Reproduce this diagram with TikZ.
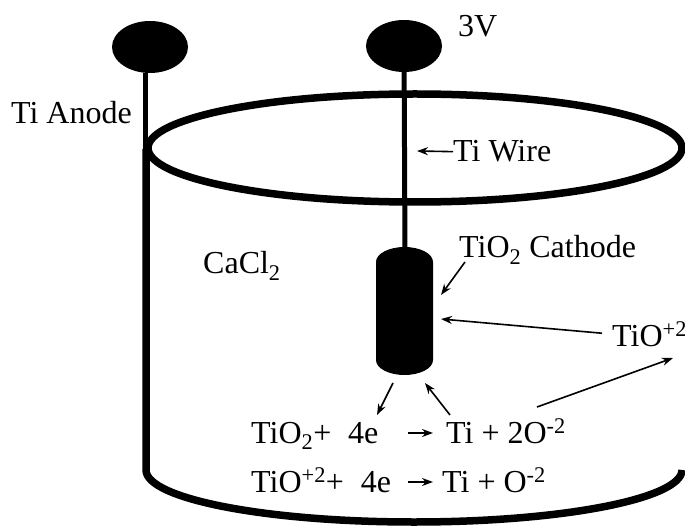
\documentclass[tikz,border=0pt]{standalone}
\usepackage{fontspec}
\setmainfont{Liberation Serif}
\usepackage{tikz}
\usetikzlibrary{arrows.meta, shapes.geometric}
\tikzset{
  lbl/.style={font=\fontsize{32}{36}\selectfont, inner sep=0pt, anchor=base west},
  thinarrow/.style={-{Stealth[length=11pt,width=8pt]}, line width=1.6pt},
  wall/.style={line width=7.5pt},
  wire/.style={line width=5pt},
  terminal/.style={ellipse, fill=black, minimum width=76pt, minimum height=52pt, inner sep=0pt}
}
\begin{document}
\begin{tikzpicture}[x=1pt, y=-1pt]
    \useasboundingbox (0,0) rectangle (685,529);
    \clip (0,0) rectangle (685,529);
    % Cell
    \draw[wall] (415,148) ellipse (267 and 54);
    \draw[wall] (146,149) -- (146,470) arc[start angle=180, end angle=0, x radius=268, y radius=52];
    % Terminals
    \node[terminal] (anode) at (150,47) {};
    \node[terminal] (lead) at (404,46) {};
    \coordinate (anodefoot) at (145,149);
    \draw[wire] (anode.south -| anodefoot) -- (anodefoot);
    % Cathode
    \fill (376,262) arc[start angle=180, end angle=360, x radius=28.5, y radius=15] -- (433,360) arc[start angle=0, end angle=180, x radius=28.5, y radius=15] -- cycle;
    \coordinate (cathodetop) at (405,250);
    \draw[wire] (lead) -- (cathodetop);
    % Labels
    \node[lbl] (volt) at (458,37) {3V};
    \node[lbl] (anodelbl) at (11,124) {Ti Anode};
    \node[lbl] (wirelbl) at (453,162) {Ti Wire};
    \node[lbl] (bath) at (203,274) {CaCl\textsubscript{2}};
    \node[lbl] (cathodelbl) at (459,258) {TiO\textsubscript{2} Cathode};
    \node[lbl] (ionlbl) at (612,346) {TiO\textsuperscript{+2}};
    \node[lbl] (eqa) at (251,443) {TiO\textsubscript{2}+ \;4e};
    \node[lbl] (eqb) at (446,443) {Ti + 2O\textsuperscript{-2}};
    \node[lbl] (eqc) at (251,492) {TiO\textsuperscript{+2}+ \;4e};
    \node[lbl] (eqd) at (442,492) {Ti + O\textsuperscript{-2}};
    % Arrows
    \coordinate (wiretip) at (417,151);
    \coordinate (cathodetip) at (441,295);
    \coordinate (cathodeside) at (441,319);
    \coordinate (outtip) at (673,358);
    \coordinate (eqatip) at (377,415);
    \coordinate (eqastart) at (393,383);
    \coordinate (eqbtip) at (425,383);
    \draw[thinarrow] (wirelbl.west) -- (wiretip);
    \draw[thinarrow] (465,262) -- (cathodetip);
    \draw[thinarrow] (ionlbl.west) ++(-10,-1) -- (cathodeside);
    \draw[thinarrow] (eqastart) -- (eqatip);
    \draw[thinarrow] (450,415) -- (eqbtip);
    \draw[thinarrow] (537,407) -- (outtip);
    \draw[thinarrow] (408,433) -- (433,433);
    \draw[thinarrow] (408,482) -- (433,482);
\end{tikzpicture}
\end{document}
